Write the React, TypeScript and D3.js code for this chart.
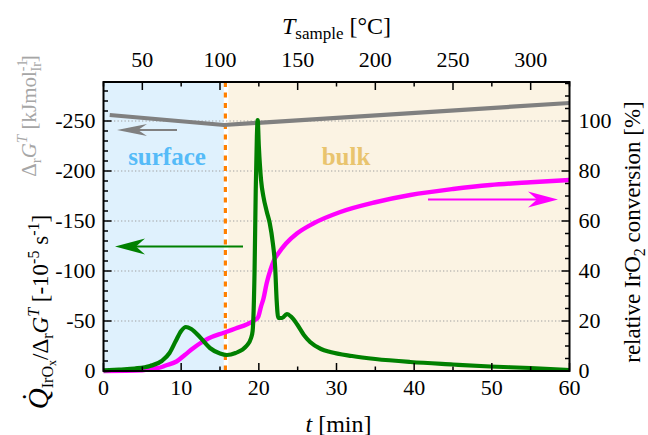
import React from "react";
import * as d3 from "d3";

// Time axis (minutes)
const xTicksMajor = [0, 10, 20, 30, 40, 50, 60];
// Sample temperature follows T = 25 + 5 t
const tempTicks = [50, 100, 150, 200, 250, 300];
const tempStart = 25;
const tempRate = 5;
// Left axis: normalised rate / ΔrG (negative values)
const leftTicks = [0, -50, -100, -150, -200, -250];
// Right axis: relative conversion [%]
const rightTicks = [0, 20, 40, 60, 80, 100];
// surface / bulk boundary [min]
const tSplit = 15.5;

// Normalised heat-flow rate Q/ΔrG [-1e-5 s^-1]
const rateT = [0, 2, 4, 6, 7.5, 8.5, 9.3, 10, 10.6, 11.3, 12.4, 13.7, 15, 15.9, 17, 18.4, 19, 19.2, 19.45, 19.6, 19.75, 19.85, 20.0, 20.3, 20.6, 21.0, 21.4, 21.8, 22.1, 22.3, 22.5, 23.0, 23.6, 24.2, 24.9, 25.8, 26.6, 28, 29.2, 32, 35, 39.5, 45, 49.8, 55, 60];
const rateV = [-0.5, -1.5, -2.5, -5, -10, -18, -30, -40, -44, -42, -34, -23, -17.5, -16, -18, -25, -33, -40, -100, -180, -235, -251, -225, -190, -174, -160, -148, -128, -104, -70, -53, -53, -57, -54, -47, -36, -29, -22, -19, -15, -12, -9, -6.5, -4.5, -3, -1];

// Relative IrO2 conversion [%]
const convT = [0, 5, 6.5, 7.3, 8, 9.4, 10.5, 11.5, 12.4, 13.5, 15.5, 17, 18.5, 19.5, 19.9, 20.3, 20.6, 21.0, 21.5, 21.9, 22.5, 23.5, 24.9, 27, 30.4, 35, 39.5, 45, 49.8, 55, 60];
const convV = [0, 0.3, 1, 1.4, 2.2, 3.8, 6.5, 9, 11, 13, 15.3, 17, 18.7, 20.4, 21.5, 26, 29, 35, 40.5, 44, 47, 51, 55, 59, 63.5, 67.5, 70.4, 72.8, 74.4, 75.5, 76.4];

// Reaction Gibbs energy ΔrG^T [kJ mol_Ir^-1]
const gibbsT = [0.8, 15.5, 60];
const gibbsV = [-256, -246, -268];

const W = 648;
const H = 435;
const L = 103.5;
const R = 569.5;
const T = 82;
const B = 371;

const FONT = "Liberation Serif";

function Arrow({ x1, x2, y, color, head = 30, half = 8, width = 2 }: { x1: number; x2: number; y: number; color: string; head?: number; half?: number; width?: number }) {
  const dir = Math.sign(x2 - x1);
  const back = x2 - dir * head;
  const notch = x2 - dir * head * 0.7;
  const pts = `${x2},${y} ${back},${y - half} ${notch},${y} ${back},${y + half}`;
  return (
    <g>
      <line x1={x1} x2={notch} y1={y} y2={y} stroke={color} strokeWidth={width} />
      <polygon points={pts} fill={color} />
    </g>
  );
}

export default function App() {
  const x = d3.scaleLinear().domain([0, 60]).range([L, R]);
  const yL = d3.scaleLinear().domain([0, -(B - T)]).range([B, T]);
  const yR = d3.scaleLinear().domain([0, (B - T) / 2.5]).range([B, T]);
  const xT = (temp: number) => x((temp - tempStart) / tempRate);

  const rateLine = d3
    .line<number>()
    .x((_, i) => x(rateT[i]))
    .y((d) => yL(d))
    .curve(d3.curveMonotoneX)(rateV) as string;
  const convLine = d3
    .line<number>()
    .x((_, i) => x(convT[i]))
    .y((d) => yR(d))
    .curve(d3.curveMonotoneX)(convV) as string;
  const gibbsLine = d3
    .line<number>()
    .x((_, i) => x(gibbsT[i]))
    .y((d) => yL(d))(gibbsV) as string;

  const xMinor = d3.range(0, 61, 5);
  const tempMinor = d3.range(tempStart, 326, 25);
  const leftMinor = d3.range(0, -281, -10);
  const rightMinor = d3.range(0, 116, 5);
  const fmt = (v: number) => (v < 0 ? "-" + Math.abs(v) : String(v));

  const xs = x(tSplit);

  return (
    <svg width={W} height={H} style={{ position: "absolute", left: 0, top: 0 }}>
      {/* backgrounds */}
      <rect x={L} y={T} width={xs - L} height={B - T} fill="#dff1fd" />
      <rect x={xs} y={T} width={4.5} height={B - T} fill="#ffffff" />
      <rect x={xs + 4.5} y={T} width={R - xs - 4.5} height={B - T} fill="#fbf3e3" />

      {/* dotted grid */}
      {leftTicks.filter((v) => v !== 0).map((v) => (
        <line key={"g" + v} x1={L} x2={R} y1={yL(v)} y2={yL(v)} stroke="#a0a0a0" strokeWidth={1.2} strokeDasharray="1.3,2.2" />
      ))}

      {/* boundary */}
      <line x1={xs + 1.5} x2={xs + 1.5} y1={T} y2={B} stroke="#ff8000" strokeWidth={3.2} strokeDasharray="5,5.5" />

      {/* region labels */}
      <text x={167} y={165} textAnchor="middle" fontFamily={FONT} fontSize={25} fontWeight="bold" fill="#55bbf8">surface</text>
      <text x={346} y={165} textAnchor="middle" fontFamily={FONT} fontSize={25} fontWeight="bold" fill="#e9c46e">bulk</text>

      {/* curves */}
      <path d={gibbsLine} fill="none" stroke="#808080" strokeWidth={4.2} />
      <path d={convLine} fill="none" stroke="#ff00ff" strokeWidth={4.4} />
      <path d={rateLine} fill="none" stroke="#008000" strokeWidth={4.2} strokeLinejoin="round" />

      {/* arrows pointing to the matching axis */}
      <Arrow x1={177} x2={117} y={130} color="#808080" head={30} half={6} width={2.2} />
      <Arrow x1={243} x2={115} y={246.5} color="#008000" head={30} half={8} width={2} />
      <Arrow x1={428} x2={558} y={199.5} color="#ff00ff" head={30} half={8} width={2.2} />

      {/* frame */}
      <rect x={L} y={T} width={R - L} height={B - T} fill="none" stroke="#000" strokeWidth={2} />

      {/* bottom ticks */}
      {xMinor.map((v) => {
        const major = v % 10 === 0;
        return <line key={"bx" + v} x1={x(v)} x2={x(v)} y1={B} y2={B - (major ? 8 : 4.5)} stroke="#000" strokeWidth={1.5} />;
      })}
      {xTicksMajor.map((v) => (
        <text key={"bl" + v} x={x(v)} y={B + 24} textAnchor="middle" fontFamily={FONT} fontSize={22}>{v}</text>
      ))}

      {/* top ticks */}
      {tempMinor.map((v) => {
        const major = v % 50 === 0;
        return <line key={"tx" + v} x1={xT(v)} x2={xT(v)} y1={T} y2={T + (major ? 8 : 4.5)} stroke="#000" strokeWidth={1.5} />;
      })}
      {tempTicks.map((v) => (
        <text key={"tl" + v} x={xT(v)} y={T - 15} textAnchor="middle" fontFamily={FONT} fontSize={22}>{v}</text>
      ))}

      {/* left ticks */}
      {leftMinor.map((v) => {
        const major = v % 50 === 0;
        return <line key={"ly" + v} x1={L} x2={L + (major ? 8 : 4.5)} y1={yL(v)} y2={yL(v)} stroke="#000" strokeWidth={1.5} />;
      })}
      {leftTicks.map((v) => (
        <text key={"ll" + v} x={L - 8} y={yL(v) + 7} textAnchor="end" fontFamily={FONT} fontSize={22}>{fmt(v)}</text>
      ))}

      {/* right ticks */}
      {rightMinor.map((v) => {
        const major = v % 20 === 0;
        return <line key={"ry" + v} x1={R} x2={R - (major ? 8 : 4.5)} y1={yR(v)} y2={yR(v)} stroke="#000" strokeWidth={1.5} />;
      })}
      {rightTicks.map((v) => (
        <text key={"rl" + v} x={R + 9} y={yR(v) + 7} textAnchor="start" fontFamily={FONT} fontSize={22}>{v}</text>
      ))}

      {/* axis titles */}
      <text x={(L + R) / 2 + 2} y={432} textAnchor="middle" fontFamily={FONT} fontSize={24}>
        <tspan fontStyle="italic">t</tspan> [min]
      </text>
      <text x={(L + R) / 2} y={34} textAnchor="middle" fontFamily={FONT} fontSize={24}>
        <tspan fontStyle="italic">T</tspan>
        <tspan fontSize={17} dy={5}>sample</tspan>
        <tspan dy={-5}> [°C]</tspan>
      </text>
      <text transform="translate(640,232) rotate(-90)" textAnchor="middle" fontFamily={FONT} fontSize={23}>
        relative IrO<tspan fontSize={16} dy={5}>2</tspan>
        <tspan dy={-5}> conversion [%]</tspan>
      </text>
      <text transform="translate(48,312) rotate(-90)" textAnchor="middle" fontFamily={FONT} fontSize={23}>
        <tspan fontStyle="italic" fontSize={29}>Q̇</tspan>
        <tspan fontSize={16} dy={5}>IrO</tspan>
        <tspan fontSize={12} dy={3}>x</tspan>
        <tspan dy={-8}>/Δ</tspan>
        <tspan fontSize={16} dy={5}>r</tspan>
        <tspan fontStyle="italic" dy={-5}>G</tspan>
        <tspan fontStyle="italic" fontSize={16} dy={-9}>T</tspan>
        <tspan dy={9}> [-10</tspan>
        <tspan fontSize={16} dy={-9}>-5</tspan>
        <tspan dy={9}> s</tspan>
        <tspan fontSize={16} dy={-9}>-1</tspan>
        <tspan dy={9}>]</tspan>
      </text>
      <text transform="translate(36,116) rotate(-90)" textAnchor="middle" fontFamily={FONT} fontSize={21} fill="#a6a6a6">
        Δ<tspan fontSize={15} dy={5}>r</tspan>
        <tspan fontStyle="italic" dy={-5}>G</tspan>
        <tspan fontStyle="italic" fontSize={15} dy={-9}>T</tspan>
        <tspan dy={9}> [kJmol</tspan>
        <tspan fontSize={14} dy={-9}>-1</tspan>
        <tspan fontSize={14} dx={-12} dy={14}>Ir</tspan>
        <tspan dy={-5}>]</tspan>
      </text>
    </svg>
  );
}
